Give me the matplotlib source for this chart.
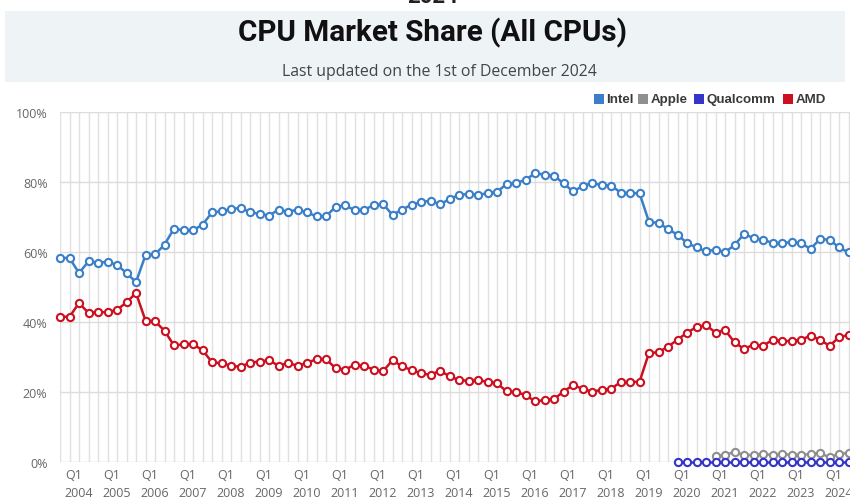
import matplotlib
matplotlib.use("Agg")
import matplotlib.pyplot as plt
import matplotlib.patches as mpatches
import matplotlib.transforms as mtransforms

# ---- données ----
years = list(range(2004, 2025))
quarter_labels = [f"{y} Q{q}" for y in years for q in range(1, 5)]

intel = [58.3, 58.3, 54.0, 57.3, 56.9, 57.2, 56.3, 54.0, 51.4, 59.1,
         59.3, 62.1, 66.7, 66.2, 66.2, 67.8, 71.3, 71.6, 72.3, 72.6,
         71.4, 70.9, 70.4, 72.1, 71.5, 72.1, 71.3, 70.2, 70.2, 72.9,
         73.3, 72.0, 72.1, 73.3, 73.7, 70.6, 72.1, 73.5, 74.2, 74.7,
         73.6, 75.1, 76.3, 76.6, 76.3, 76.8, 77.2, 79.4, 79.7, 80.6,
         82.5, 82.1, 81.8, 79.6, 77.3, 78.8, 79.7, 79.1, 79.0, 77.0,
         76.8, 76.8, 68.6, 68.3, 66.6, 64.9, 62.6, 61.3, 60.2, 60.7,
         59.9, 62.0, 65.1, 64.0, 63.5, 62.6, 62.6, 62.8, 62.5, 60.9,
         63.7, 63.5, 61.3, 59.9]

amd = [41.5, 41.5, 45.4, 42.6, 42.8, 42.8, 43.5, 45.6, 48.3, 40.4,
       40.2, 37.5, 33.3, 33.6, 33.6, 32.0, 28.5, 28.2, 27.5, 27.2,
       28.4, 28.7, 29.1, 27.5, 28.3, 27.5, 28.3, 29.4, 29.4, 26.8,
       26.4, 27.7, 27.5, 26.4, 25.9, 29.1, 27.3, 26.3, 25.3, 24.9,
       26.1, 24.5, 23.4, 23.2, 23.4, 22.9, 22.5, 20.2, 19.9, 19.2,
       17.3, 17.7, 18.0, 20.1, 22.0, 20.9, 20.1, 20.6, 20.9, 22.8,
       22.9, 22.9, 31.2, 31.3, 33.0, 34.9, 37.0, 38.5, 39.1, 37.0,
       37.7, 34.2, 32.3, 33.5, 33.2, 34.9, 34.5, 34.6, 34.9, 36.1,
       34.9, 33.2, 35.6, 36.3]

# Apple à partir de 2021 Q2, Qualcomm à partir de 2020 Q2
apple_start = 69
apple = [1.6, 2.0, 2.9, 2.0, 2.0, 2.3, 2.0, 2.3, 2.0, 2.0, 2.3, 2.6, 1.3, 2.3, 2.6]
qualcomm_start = 65
qualcomm = [0.1, 0.1, 0.1, 0.1, 0.1, 0.1, 0.1, 0.1, 0.1, 0.1,
            0.1, 0.1, 0.1, 0.1, 0.1, 0.1, 0.1, 0.1, 0.1]

y_ticks = [0, 20, 40, 60, 80, 100]

# ---- couleurs ----
C_INTEL = "#3a7fc8"
C_APPLE = "#8f8f8f"
C_QCOM = "#3535c8"
C_AMD = "#cc1020"
C_GRID = "#dcdcdc"
C_LABEL = "#666666"

W, H = 850, 502
fig = plt.figure(figsize=(W / 100, H / 100), dpi=100)
fig.patch.set_facecolor("white")

# bandeau du titre
fig.patches.append(mpatches.Rectangle((5 / W, 1 - 83 / H), 840 / W, 71 / H,
                                      transform=fig.transFigure, facecolor="#eef3f6",
                                      edgecolor="none", zorder=0))
fig.text(433 / W, 1 - 3 / H, "2024", ha="center", va="baseline", fontsize=16,
         fontweight="bold", color="#222222", family="Roboto")
fig.text(433 / W, 1 - 33 / H, "CPU Market Share (All CPUs)", ha="center", va="center",
         fontsize=21.3, fontweight="bold", color="#111111", family="Roboto")
fig.text(439 / W, 1 - 72 / H, "Last updated on the 1st of December 2024", ha="center",
         va="center", fontsize=11.4, color="#444444", family="Open Sans")

# zone du graphique
ax = fig.add_axes([60 / W, (H - 463) / H, 790 / W, 350 / H])
x_right = 790 / 9.5
ax.set_xlim(0, x_right)
ax.set_ylim(0, 100)
for s in ax.spines.values():
    s.set_visible(False)

for i in range(len(quarter_labels)):
    ax.axvline(i, color="#e0e0e0", lw=1.0, zorder=0)
for v in y_ticks:
    ax.axhline(v, color=C_GRID if v else "#cfd6e0", lw=1.0, zorder=0)

ax.set_yticks(y_ticks)
ax.set_yticklabels([f"{v}%" for v in y_ticks], color=C_LABEL, fontsize=9, family="Open Sans")
ax.tick_params(axis="y", length=0, pad=9)
ax.set_xticks([])

mk = dict(marker="o", markersize=5.2, markerfacecolor="white", markeredgewidth=1.5,
          lw=1.8, clip_on=False)
xs = list(range(len(intel)))
ax.plot(xs, intel, color=C_INTEL, markeredgecolor=C_INTEL, zorder=3, **mk)
ax.plot(range(apple_start, apple_start + len(apple)), apple, color=C_APPLE,
        markeredgecolor=C_APPLE, zorder=3, **mk)
ax.plot(range(qualcomm_start, qualcomm_start + len(qualcomm)), qualcomm, color=C_QCOM,
        markeredgecolor=C_QCOM, zorder=4, **mk)
ax.plot(xs, amd, color=C_AMD, markeredgecolor=C_AMD, zorder=3, **mk)

# étiquettes des années (Q1 / année), alignées à gauche
trans = mtransforms.blended_transform_factory(ax.transData, fig.transFigure)
for k, y in enumerate(years):
    xpos = k * 4 + 0.5
    ax.text(xpos, 1 - 476 / H, "Q1", transform=trans, ha="left", va="center",
            fontsize=9, color=C_LABEL, family="Open Sans", clip_on=False)
    ax.text(xpos, 1 - 494 / H, str(y), transform=trans, ha="left", va="center",
            fontsize=9, color=C_LABEL, family="Open Sans", clip_on=False)

# légende (carrés + libellés)
legend_items = [("Intel", C_INTEL, 594), ("Apple", C_APPLE, 638),
                ("Qualcomm", C_QCOM, 694), ("AMD", C_AMD, 783)]
for name, col, px in legend_items:
    fig.patches.append(mpatches.Rectangle((px / W, 1 - 105 / H), 10 / W, 10 / H,
                                          transform=fig.transFigure, facecolor=col,
                                          edgecolor="none"))
    fig.text((px + 12.5) / W, 1 - 100 / H, name, ha="left", va="center", fontsize=9.6,
             fontweight="bold", color="#3a3a3a", family="Liberation Sans")

fig.savefig("out.png", dpi=100)
